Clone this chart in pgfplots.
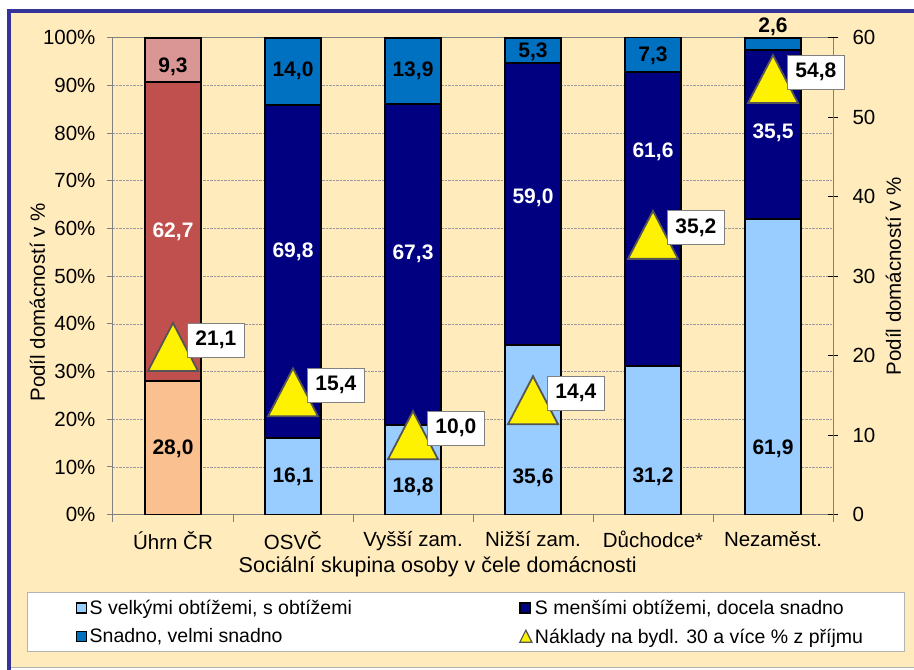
\documentclass[border=0pt]{standalone}
\usepackage{fontspec}
\setmainfont{Liberation Sans}
\usepackage{pgfplots}
\pgfplotsset{compat=1.18}
\usepackage{pgfplotstable}

\definecolor{bg}{RGB}{255,235,188}
\definecolor{frameblue}{RGB}{51,51,153}
\definecolor{lightblue}{RGB}{153,204,255}
\definecolor{navyb}{RGB}{0,0,128}
\definecolor{midblue}{RGB}{0,112,192}
\definecolor{peach}{RGB}{250,192,144}
\definecolor{brick}{RGB}{192,80,77}
\definecolor{pinkb}{RGB}{218,150,148}
\definecolor{axgray}{RGB}{128,128,128}
\definecolor{trigray}{RGB}{85,85,85}

\pgfdeclareplotmark{tri}{%
  \pgfpathmoveto{\pgfqpoint{0pt}{24pt}}%
  \pgfpathlineto{\pgfqpoint{-25pt}{-24pt}}%
  \pgfpathlineto{\pgfqpoint{25pt}{-24pt}}%
  \pgfpathclose
  \pgfusepathqfillstroke}

% Úhrn ČR bar segments
\pgfplotstableread{
x v
0 28.0
}\uA
\pgfplotstableread{
x v
0 62.7
}\uB
\pgfplotstableread{
x v
0 9.3
}\uC
% other groups
\pgfplotstableread{
x v
1 16.1
2 18.8
3 35.6
4 31.2
5 61.9
}\sA
\pgfplotstableread{
x v
1 69.8
2 67.3
3 59.0
4 61.6
5 35.5
}\sB
\pgfplotstableread{
x v
1 14.0
2 13.9
3 5.3
4 7.3
5 2.6
}\sC
% triangles (secondary axis)
\pgfplotstableread{
x v lab
0 21.1 21,1
1 15.4 15,4
2 10.0 10,0
3 14.4 14,4
4 35.2 35,2
5 54.8 54,8
}\tri
% label positions (percent scale)
\pgfplotstableread{
x y lab
0 13.8 28,0
0 94.0 9,3
1 7.9 16,1
1 93.0 14,0
2 5.8 18,8
2 93.0 13,9
3 7.7 35,6
3 97.0 5,3
4 7.9 31,2
4 96.2 7,3
5 13.8 61,9
5 102.2 2,6
}\labB
\pgfplotstableread{
x y lab
0 59.3 62,7
1 55.1 69,8
2 54.6 67,3
3 66.4 59,0
4 76.0 61,6
5 80.0 35,5
}\labW

\pgfplotsset{
  base/.style={
    at={(113pt,155.3pt)}, anchor=south west,
    scale only axis, width=720pt, height=477pt,
    xmin=-0.5, xmax=5.5,
  },
  barstyle/.style={draw=black, line width=2pt},
}
\newcommand{\tfont}{\fontsize{20.5}{24}\selectfont}
\newcommand{\xlfont}{\fontsize{21.5}{25}\selectfont}
\newcommand{\lfont}{\bfseries\fontsize{21}{24}\selectfont}

\begin{document}
\begin{tikzpicture}
\useasboundingbox (0pt,0pt) rectangle (914pt,670pt);
\fill[white] (0pt,0pt) rectangle (914pt,670pt);
\fill[bg] (9pt,2pt) rectangle (914pt,658.5pt);
\draw[axgray!60, line width=1pt] (9pt,2pt) -- (914pt,2pt);
\draw[frameblue, line width=4pt] (9pt,0pt) -- (9pt,658.5pt) -- (914pt,658.5pt);
\draw[axgray!60, fill=white, line width=0.8pt] (27pt,19pt) rectangle (904pt,78pt);

% Axis A: frame, grid, left axis, x ticks, Úhrn ČR bar
\begin{axis}[base,
  ymin=0, ymax=100,
  ybar stacked, bar width=56pt,
  axis line style={axgray, line width=1pt},
  tick pos=left,
  tick align=outside,
  ytick={0,10,...,100},
  yticklabel={\pgfmathprintnumber{\tick}\%},
  /pgf/number format/assume math mode=true,
  major tick length=6pt,
  xtick={0,...,5},
  xticklabels={Úhrn ČR, OSVČ, Vyšší zam., Nižší zam., Důchodce*, Nezaměst.},
  x tick style={draw=none},
  minor xtick={-0.5,0.5,...,5.5},
  minor x tick style={draw=axgray, line width=1pt},
  minor tick length=7pt,
  y tick style={draw=axgray, line width=1pt},
  ymajorgrids,
  grid style={densely dotted, axgray!80, line width=0.6pt},
  ticklabel style={font=\tfont, text=black},
  xticklabel style={yshift=-7pt},
  yticklabel style={xshift=-8pt},
  xlabel={Sociální skupina osoby v čele domácnosti},
  xlabel style={at={(axis description cs:0.451,-0.1096)}, anchor=center, font=\xlfont},
  ylabel={Podíl domácností v \%},
  ylabel style={at={(axis description cs:-0.105,0.445)}, anchor=center, font=\tfont},
]
\addplot[barstyle, fill=peach] table[x=x, y=v] {\uA};
\addplot[barstyle, fill=brick] table[x=x, y=v] {\uB};
\addplot[barstyle, fill=pinkb] table[x=x, y=v] {\uC};
\end{axis}

% Axis B: the other bars + legend
\begin{axis}[base,
  ymin=0, ymax=100, hide axis,
  ybar stacked, bar width=56pt,
  legend columns=2,
  legend cell align=left,
  legend style={at={(axis description cs:-0.052,-0.175)}, anchor=north west,
    draw=none, fill=none, inner sep=0pt, row sep=10pt,
    font=\fontsize{19.5}{22}\selectfont, nodes={inner sep=1.5pt},
    /tikz/every odd column/.append style={column sep=1pt}},
]
\addplot[barstyle, fill=lightblue, forget plot] table[x=x, y=v] {\sA};
\addplot[barstyle, fill=navyb, forget plot] table[x=x, y=v] {\sB};
\addplot[barstyle, fill=midblue, forget plot] table[x=x, y=v] {\sC};
\addlegendimage{legend image code/.code={\draw[fill=lightblue,draw=black,line width=1.4pt] (0pt,-5pt) rectangle (10pt,5pt);}}
\addlegendentry{\makebox[428pt][l]{S velkými obtížemi, s obtížemi}}
\addlegendimage{legend image code/.code={\draw[fill=navyb,draw=black,line width=1.4pt] (0pt,-5pt) rectangle (10pt,5pt);}}
\addlegendentry{S menšími obtížemi, docela snadno}
\addlegendimage{legend image code/.code={\draw[fill=midblue,draw=black,line width=1.4pt] (0pt,-5pt) rectangle (10pt,5pt);}}
\addlegendentry{\makebox[428pt][l]{Snadno, velmi snadno}}
\addlegendimage{legend image code/.code={\draw[fill=yellow,draw=trigray,line width=1.2pt] (0pt,-5.5pt) -- (6pt,6.5pt) -- (12pt,-5.5pt) -- cycle;}}
\addlegendentry{Náklady na bydl. 30 a více \% z příjmu}
\end{axis}

% Axis D: segment labels
\begin{axis}[base, ymin=0, ymax=100, hide axis, clip=false]
\addplot[draw=none, no markers, nodes near coords, point meta=explicit symbolic,
  nodes near coords style={anchor=center, font=\lfont, text=black}]
  table[x=x, y=y, meta=lab] {\labB};
\addplot[draw=none, no markers, nodes near coords, point meta=explicit symbolic,
  nodes near coords style={anchor=center, font=\lfont, text=white}]
  table[x=x, y=y, meta=lab] {\labW};
\end{axis}

% Axis C: secondary axis with triangles
\begin{axis}[base,
  ymin=0, ymax=60, clip=false,
  axis x line=none,
  axis y line*=right,
  axis line style={axgray, line width=1pt, -},
  ytick={0,10,...,60},
  tick align=center,
  major tick length=10pt,
  y tick style={draw=black, line width=0.8pt},
  /pgf/number format/assume math mode=true,
  ticklabel style={font=\tfont, text=black},
  yticklabel style={xshift=11pt},
  ylabel={Podíl domácností v \%},
  ylabel style={at={(axis description cs:1.084,0.5)}, anchor=center, font=\tfont},
]
\addplot[only marks, mark=tri, mark options={fill=yellow, draw=trigray, line width=1.8pt},
  nodes near coords, point meta=explicit symbolic,
  nodes near coords style={anchor=west, xshift=14pt, yshift=7pt, draw=axgray, fill=white,
    line width=0.8pt, font=\lfont, text=black, minimum height=34pt, inner xsep=8pt}]
  table[x=x, y=v, meta=lab] {\tri};
\end{axis}
\end{tikzpicture}
\end{document}
